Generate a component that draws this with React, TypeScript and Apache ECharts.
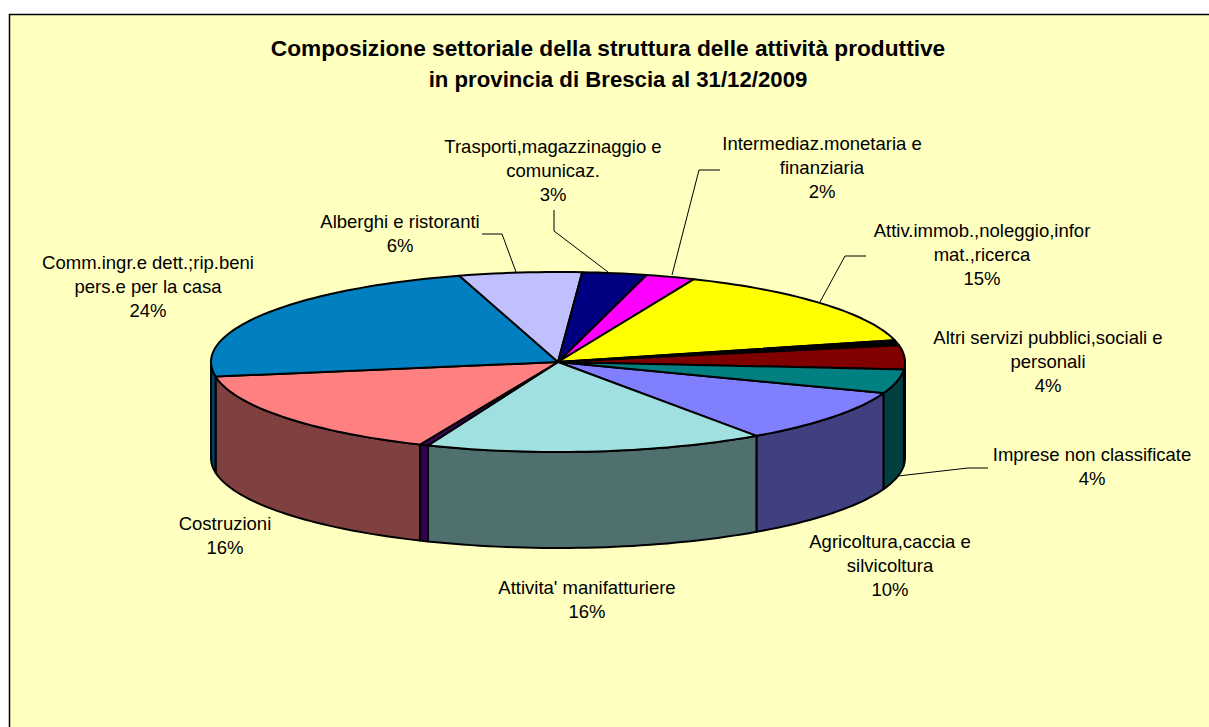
import React, { useEffect, useRef } from "react";
import * as echarts from "echarts";

const titleLines = [
  "Composizione settoriale della struttura delle attività produttive",
  "in provincia di Brescia al 31/12/2009",
];
const categories = [
  "Agricoltura,caccia e\nsilvicoltura",
  "Attivita' manifatturiere",
  "",
  "Costruzioni",
  "Comm.ingr.e dett.;rip.beni\npers.e per la casa",
  "Alberghi e ristoranti",
  "Trasporti,magazzinaggio e\ncomunicaz.",
  "Intermediaz.monetaria e\nfinanziaria",
  "Attiv.immob.,noleggio,infor\nmat.,ricerca",
  "",
  "Altri servizi pubblici,sociali e\npersonali",
  "Imprese non classificate",
];
const values = [9.7, 15.8, 0.4, 15.9, 23.0, 5.7, 3.0, 2.3, 14.7, 0.9, 4.3, 4.3];
const percentLabels = ["10%", "16%", "", "16%", "24%", "6%", "3%", "2%", "15%", "", "4%", "4%"];
const topColors = ["#8080FF", "#A0E0E0", "#400060", "#FF8080", "#0080C0", "#C0C0FF", "#000080", "#FF00FF", "#FFFF00", "#000000", "#800000", "#008080"];
const sideColors = ["#404080", "#507070", "#300050", "#804040", "#004060", "#606080", "#000040", "#800080", "#808000", "#000000", "#400000", "#004040"];

// Layout of the drawing (not data)
const W = 1209, H = 727;
const CX = 558, CY = 362, RX = 347, RY = 90, DEPTH = 96;
const START_ANGLE = -20.2;
const LABEL_BOX: [number, number][] = [
  [890, 541], [587, 587], [0, 0], [225, 523], [148, 262], [400, 221],
  [553, 146], [822, 143], [982, 230], [0, 0], [1048, 337], [1092, 454],
];
const LEADERS: number[][][] = [
  [], [], [], [], [],
  [[482, 234], [502, 234], [516, 272]],
  [[554, 210], [554, 231], [608, 272]],
  [[720, 170], [699, 170], [672, 275]],
  [[866, 256], [845, 256], [820, 302]],
  [], [],
  [[988, 468], [968, 468], [898, 476]],
];
const LABEL_FONT = '18.5px "Liberation Sans", Arial, sans-serif';
const LINE_H = 24.4;
const TITLE_FONT = '"Liberation Sans", Arial, sans-serif';

const rim = (deg: number, dy = 0): number[] => {
  const r = (deg * Math.PI) / 180;
  return [CX + RX * Math.cos(r), CY - RY * Math.sin(r) + dy];
};
const arcPoints = (from: number, to: number, dy = 0): number[][] => {
  const n = Math.max(2, Math.ceil(Math.abs(from - to) / 1.5));
  const pts: number[][] = [];
  for (let i = 0; i <= n; i++) pts.push(rim(from + ((to - from) * i) / n, dy));
  return pts;
};

const renderItem = (params: any, api: any) => {
  const i = params.dataIndex;
  let before = 0;
  for (let k = 0; k < i; k++) before += values[k];
  const v = api.value(0);
  const a1 = START_ANGLE - (before * 360) / 100;
  const a2 = a1 - (v * 360) / 100;
  const children: any[] = [];
  for (const off of [0, -360]) {
    const from = Math.min(a1, off);
    const to = Math.max(a2, off - 180);
    if (from > to) {
      const top = arcPoints(from, to);
      const bottom = arcPoints(to, from, DEPTH);
      children.push({
        type: "polygon",
        shape: { points: [...top, ...bottom] },
        style: { fill: sideColors[i], stroke: "#000", lineWidth: 2, lineJoin: "round" },
      });
    }
  }
  children.push({
    type: "polygon",
    shape: { points: [[CX, CY], ...arcPoints(a1, a2)] },
    style: { fill: topColors[i], stroke: "#000", lineWidth: 2, lineJoin: "round" },
  });
  if (LEADERS[i].length) {
    children.push({
      type: "polyline",
      shape: { points: LEADERS[i] },
      style: { fill: "none", stroke: "#000", lineWidth: 1 },
    });
  }
  if (categories[i] || percentLabels[i]) {
    const lines = (categories[i] + "\n" + percentLabels[i]).split("\n");
    lines.forEach((t, k) => {
      children.push({
        type: "text",
        style: {
          text: t,
          x: LABEL_BOX[i][0],
          y: LABEL_BOX[i][1] + k * LINE_H,
          font: LABEL_FONT,
          fill: "#000",
          align: "center",
          verticalAlign: "middle",
        },
      });
    });
  }
  return { type: "group", children };
};

export default function App() {
  const ref = useRef<HTMLDivElement>(null);
  useEffect(() => {
    const chart = echarts.init(ref.current!, undefined, { renderer: "svg" });
    chart.setOption({
      animation: false,
      backgroundColor: "#ffffff",
      graphic: [
        {
          type: "rect",
          z: -10,
          shape: { x: 9.5, y: 14.5, width: 1400, height: 900 },
          style: { fill: "#FFFFC0", stroke: "#000", lineWidth: 1.5 },
        },
      ],
      title: [
        {
          text: titleLines[0],
          left: 603,
          top: 31,
          textAlign: "center",
          textStyle: { fontFamily: TITLE_FONT, fontSize: 22.7, fontWeight: "bold", color: "#000" },
        },
        {
          text: titleLines[1],
          left: 613,
          top: 63,
          textAlign: "center",
          textStyle: { fontFamily: TITLE_FONT, fontSize: 22.2, fontWeight: "bold", color: "#000" },
        },
      ],
      series: [
        {
          type: "custom",
          coordinateSystem: "none",
          renderItem,
          data: values.map((v) => [v]),
          silent: true,
          z: 2,
        },
      ],
    });
    return () => chart.dispose();
  }, []);
  return <div ref={ref} style={{ position: "fixed", left: 0, top: 0, width: W, height: H }} />;
}
